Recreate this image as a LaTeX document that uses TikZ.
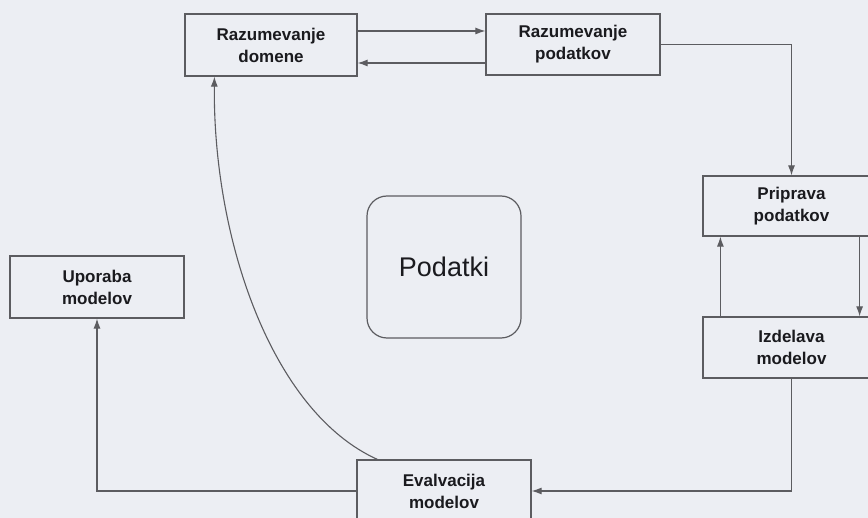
\documentclass[tikz,border=0pt]{standalone}
\usepackage{fontspec}
\setmainfont{Liberation Sans}
\usetikzlibrary{arrows.meta}
\definecolor{bgc}{HTML}{ECEEF3}
\definecolor{linec}{HTML}{5C5C60}
\definecolor{textc}{HTML}{1A1A1E}
\tikzset{
  procbox/.style={draw=linec, line width=1.2pt, inner sep=0pt, align=center,
    text=textc, font=\bfseries\fontsize{17}{22}\selectfont},
  arr/.style={draw=linec, line width=1.1pt, -{Latex[length=10pt,width=7pt]}},
}
\begin{document}
\begin{tikzpicture}[x=1pt,y=-1pt]
\clip (0,0) rectangle (868,518);
\fill[bgc] (0,0) rectangle (868,518);

\node[procbox, minimum width=172pt, minimum height=62pt] (dom) at (271,45) {Razumevanje\\domene};
\node[procbox, minimum width=174pt, minimum height=61pt] (pod) at (573,44.5) {Razumevanje\\podatkov};
\node[procbox, minimum width=177pt, minimum height=60pt] (pri) at (791.5,206) {Priprava\\podatkov};
\node[procbox, minimum width=177pt, minimum height=61pt] (izd) at (791.5,347.5) {Izdelava\\modelov};
\node[procbox, minimum width=174pt, minimum height=62pt] (upo) at (97,287) {Uporaba\\modelov};
\node[procbox, minimum width=174pt, minimum height=62pt] (ev) at (444,491) {Evalvacija\\modelov};
\node[draw=linec, line width=1.2pt, rounded corners=20pt, minimum width=154pt, minimum height=142pt,
      inner sep=0pt, text=textc, font=\fontsize{27}{32}\selectfont] (dat) at (444,267) {Podatki};

\draw[arr] ([yshift=14pt]dom.east) -- ([yshift=14pt]dom.east -| pod.west);
\draw[arr] ([yshift=-18pt]dom.east -| pod.west) -- ([yshift=-18pt]dom.east);
\draw[arr] (pod.east) -| (pri.north);
\draw[arr] ([xshift=-21pt]pri.south east) -- ([xshift=-21pt]izd.north east);
\draw[arr] ([xshift=18pt]izd.north west) -- ([xshift=18pt]pri.south west);
\draw[arr] (izd.south) |- (ev.east);
\draw[arr] (ev.west) -| (upo.south);
\draw[arr] ([xshift=21pt]ev.north west) .. controls (272,412) and (213,240) .. ([xshift=30pt]dom.south west);
\end{tikzpicture}
\end{document}
